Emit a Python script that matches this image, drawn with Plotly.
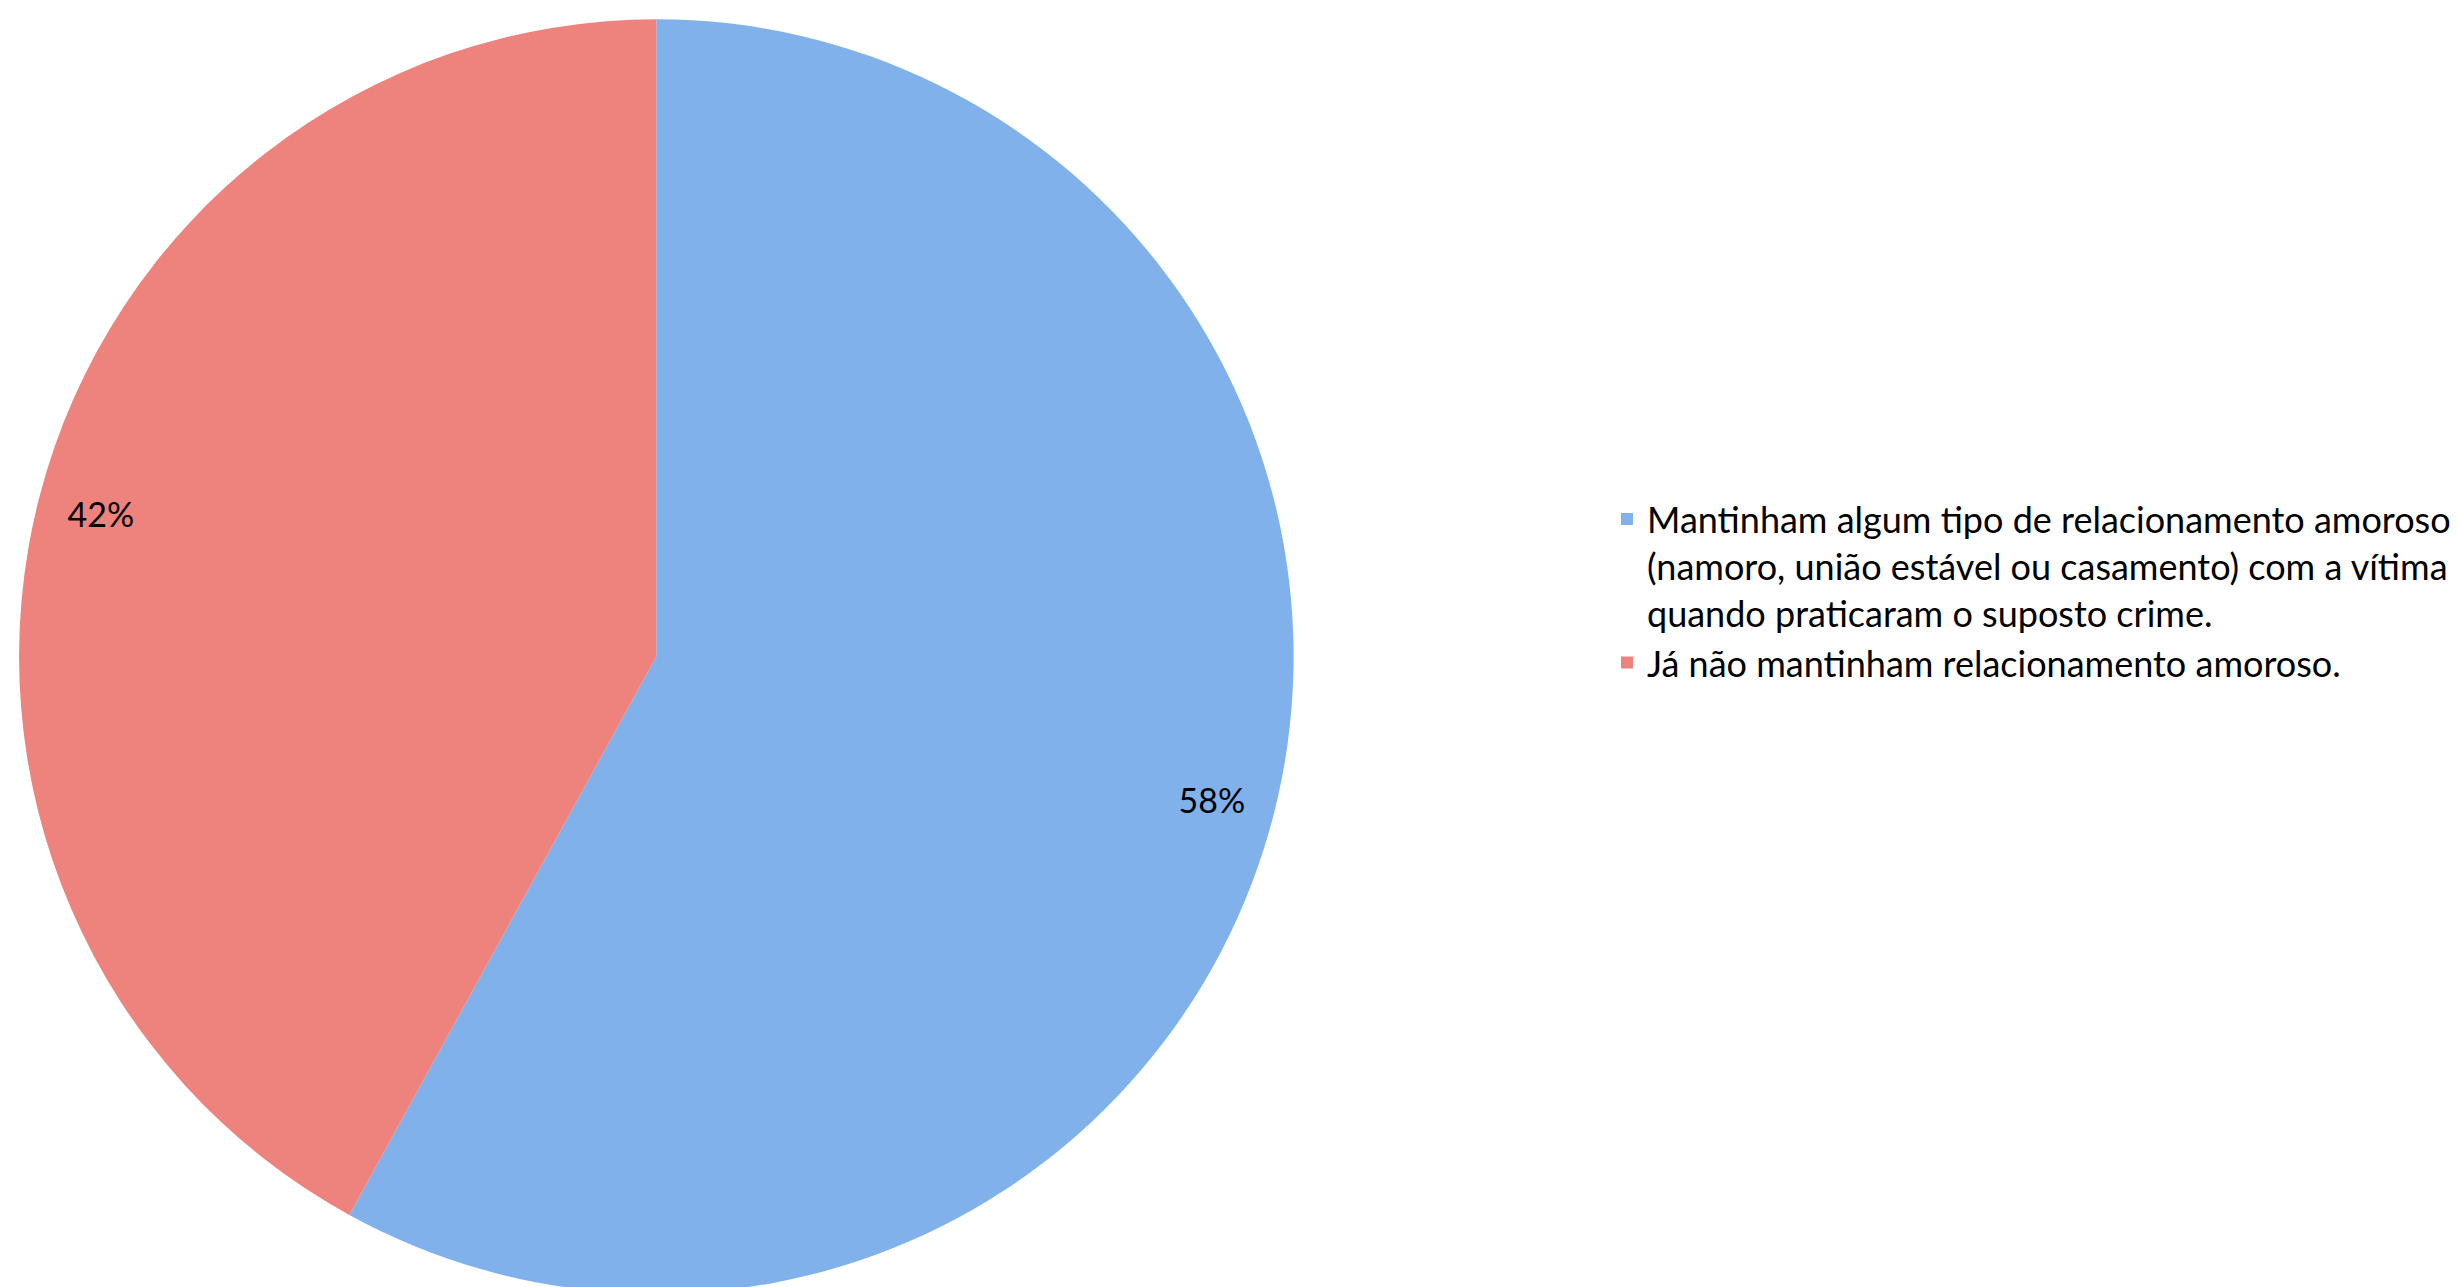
import plotly.graph_objects as go

labels = [
    "Mantinham algum tipo de relacionamento amoroso<br>(namoro, união estável ou casamento) com a vítima<br>quando praticaram o suposto crime.",
    "Já não mantinham relacionamento amoroso.",
]
values = [58, 42]
colors = ["#80B1EA", "#EE837E"]

dom = dict(x=[0.0045, 0.5226], y=[0, 1])

fig = go.Figure()
fig.add_trace(
    go.Pie(
        labels=labels,
        values=values,
        sort=False,
        direction="clockwise",
        rotation=0,
        marker=dict(colors=colors, line=dict(width=0)),
        textinfo="none",
        hoverinfo="label+percent",
        domain=dom,
    )
)
# transparent ring that carries the percentage labels near the rim
fig.add_trace(
    go.Pie(
        labels=labels,
        values=values,
        sort=False,
        direction="clockwise",
        rotation=0,
        hole=0.8,
        marker=dict(colors=["rgba(0,0,0,0)"] * len(values), line=dict(width=0)),
        texttemplate="%{percent:.0%}",
        textposition="inside",
        insidetextorientation="horizontal",
        textfont=dict(family="Lato", size=34, color="black"),
        hoverinfo="skip",
        showlegend=False,
        domain=dom,
    )
)

fig.update_layout(
    width=2460,
    height=1287,
    margin=dict(l=0, r=0, t=10, b=0),
    paper_bgcolor="white",
    plot_bgcolor="white",
    showlegend=True,
    legend=dict(
        x=0.650,
        xanchor="left",
        y=0.631,
        yanchor="top",
        valign="top",
        font=dict(family="Lato", size=36, color="black"),
        bgcolor="rgba(0,0,0,0)",
    ),
    font=dict(family="Lato"),
)

fig.write_html("out.html")
